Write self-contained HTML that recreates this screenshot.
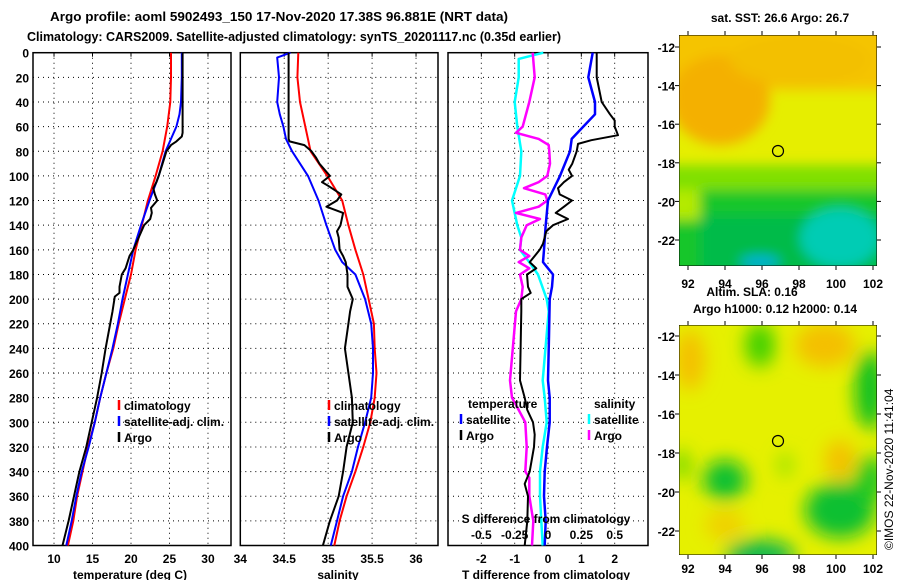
<!DOCTYPE html>
<html><head><meta charset="utf-8"><style>
body{margin:0;background:#fff;}
svg{display:block;font-family:"Liberation Sans",sans-serif;font-weight:bold;}
</style></head><body>
<svg id="fig" width="900" height="580" viewBox="0 0 900 580" xmlns="http://www.w3.org/2000/svg">
<defs>
<filter id="blur1" x="-20%" y="-20%" width="140%" height="140%"><feGaussianBlur stdDeviation="6"/></filter>
<filter id="blur2" x="-20%" y="-20%" width="140%" height="140%"><feGaussianBlur stdDeviation="9"/></filter>
<clipPath id="m1c"><rect x="679" y="35" width="198" height="231"/></clipPath>
<clipPath id="m2c"><rect x="679" y="325" width="198" height="230"/></clipPath>
</defs>
<text x="50" y="21" font-size="13" textLength="458" lengthAdjust="spacingAndGlyphs">Argo profile: aoml 5902493_150 17-Nov-2020 17.38S 96.881E (NRT data)</text>
<text x="27" y="41" font-size="13" textLength="534" lengthAdjust="spacingAndGlyphs">Climatology: CARS2009. Satellite-adjusted climatology: synTS_20201117.nc (0.35d earlier)</text>

<g id="maps">
 <g clip-path="url(#m1c)">
  <rect x="679" y="35" width="198" height="231" fill="#e6ee00"/>
  <g filter="url(#blur1)">
   <rect x="660" y="20" width="240" height="70" fill="#f5c400"/>
   <ellipse cx="720" cy="100" rx="50" ry="45" fill="#f4b000"/>
   <ellipse cx="800" cy="60" rx="70" ry="25" fill="#f3c000"/>
   <rect x="660" y="178" width="240" height="100" fill="#14c62a"/>
   <rect x="660" y="165" width="240" height="25" fill="#80e000"/>
   <rect x="660" y="190" width="40" height="30" fill="#b4ea00"/>
   <rect x="700" y="215" width="180" height="60" fill="#06bb4a"/>
   <ellipse cx="840" cy="238" rx="40" ry="30" fill="#00ccb4"/>
   <ellipse cx="760" cy="262" rx="20" ry="6" fill="#00b0e0"/>
  </g>
  <rect x="679" y="35" width="198" height="231" fill="none" stroke="#000"/>
  <circle cx="778" cy="151" r="5.5" fill="none" stroke="#000" stroke-width="1.2"/>
 </g>
 <g clip-path="url(#m2c)">
  <rect x="679" y="325" width="198" height="230" fill="#e6f000"/>
  <g filter="url(#blur2)">
   <ellipse cx="690" cy="360" rx="15" ry="30" fill="#f4c000"/>
   <ellipse cx="825" cy="345" rx="30" ry="22" fill="#f4c000"/>
   <ellipse cx="840" cy="460" rx="15" ry="20" fill="#f4c000"/>
   <ellipse cx="725" cy="525" rx="20" ry="15" fill="#f0d000"/>
   <ellipse cx="760" cy="345" rx="15" ry="22" fill="#40d000"/>
   <ellipse cx="870" cy="390" rx="15" ry="40" fill="#10c020"/>
   <ellipse cx="725" cy="480" rx="22" ry="20" fill="#10c030"/>
   <ellipse cx="840" cy="510" rx="35" ry="28" fill="#10c030"/>
   <ellipse cx="870" cy="480" rx="15" ry="25" fill="#20c820"/>
   <ellipse cx="760" cy="555" rx="35" ry="15" fill="#10b850"/>
   <ellipse cx="785" cy="465" rx="6" ry="12" fill="#80e000"/>
   <ellipse cx="682" cy="465" rx="6" ry="15" fill="#40d000"/>
  </g>
  <rect x="679" y="325" width="198" height="230" fill="none" stroke="#000"/>
  <circle cx="778" cy="441" r="5.5" fill="none" stroke="#000" stroke-width="1.2"/>
 </g>
 <text x="780" y="22" font-size="12" text-anchor="middle">sat. SST: 26.6 Argo: 26.7</text>
 <text x="752" y="296" font-size="12" text-anchor="middle">Altim. SLA: 0.16</text>
 <text x="775" y="313" font-size="12" text-anchor="middle">Argo h1000: 0.12 h2000: 0.14</text>
 <text transform="translate(893,550) rotate(-90)" font-size="12" font-weight="normal">©IMOS 22-Nov-2020 11:41:04</text>
</g>
<g id="plots"></g>
</svg>
<script>
// ---- temperature panel data ----
const tDepClim = [0,20,40,60,80,100,120,140,160,180,200,220,240,260,280,300,320,340,360,380,400];
const tClim = [25.2,25.2,25.1,24.7,24.1,23.2,22.2,21.4,20.6,20.0,19.2,18.4,17.7,16.8,16.0,15.3,14.4,13.7,13.0,12.5,11.8];
const tDepSat = [0,20,40,50,60,70,80,100,120,140,160,180,200,220,240,260,280,300,320,340,360,380,400];
const tSat = [26.6,26.6,26.5,26.3,25.9,25.2,24.5,23.6,22.4,21.3,20.3,19.6,18.9,18.3,17.6,16.8,16.0,15.3,14.5,13.6,12.9,12.3,11.6];
const tDepArgo = [0,65,68,72,75,80,90,100,105,110,115,120,126,130,135,140,150,160,165,175,180,190,195,198,210,220,240,260,280,300,320,340,360,380,400];
const tArgo = [26.7,26.7,26.6,25.9,25.2,24.6,24.1,23.6,23.3,22.9,23.1,23.4,22.6,22.7,22.5,21.7,21.0,20.3,19.8,19.3,18.8,18.5,18.5,17.9,17.6,17.3,16.7,16.2,15.6,14.9,14.2,13.3,12.6,11.9,11.1];
// ---- salinity panel data ----
const sDepClim = [0,20,40,60,80,100,120,140,160,180,200,220,240,260,280,300,320,340,360,380,400];
const sClim = [34.66,34.65,34.68,34.74,34.80,34.99,35.16,35.23,35.31,35.40,35.46,35.52,35.53,35.55,35.53,35.48,35.40,35.31,35.21,35.13,35.07];
const sDepSat = [0,4,20,40,50,60,70,80,90,100,120,140,160,170,180,200,220,240,260,280,300,320,340,360,380,400];
const sSat = [34.57,34.42,34.44,34.42,34.45,34.49,34.52,34.59,34.68,34.77,34.89,34.98,35.08,35.16,35.31,35.42,35.49,35.51,35.51,35.49,35.42,35.34,35.27,35.17,35.10,35.03];
const sDepArgo = [0,70,72,75,80,85,90,100,105,108,115,120,125,130,140,145,150,160,165,170,180,190,200,210,220,240,260,280,300,320,340,360,380,400];
const sArgo = [34.55,34.55,34.56,34.73,34.81,34.86,34.90,35.02,34.93,35.00,35.15,35.10,34.98,35.17,35.14,35.10,35.12,35.13,35.17,35.20,35.22,35.22,35.28,35.25,35.23,35.19,35.23,35.27,35.28,35.21,35.17,35.12,35.02,34.94];
// ---- difference panel data ----
const dDepTSat = [0,20,40,50,60,70,80,100,120,140,160,170,175,180,190,200,230,266,280,300,320,340,360,380,400];
const dTSat = [1.34,1.21,1.41,1.41,1.06,0.71,0.66,0.36,0.0,-0.07,-0.12,-0.15,0.0,0.15,0.12,0.05,0.03,0.0,0.05,0.05,-0.03,-0.1,-0.12,-0.07,-0.1];
const dDepTArgo = [0,20,40,50,55,60,67,71,74,80,90,95,100,105,110,115,120,125,130,135,140,145,155,160,165,170,175,180,190,195,200,210,266,280,290,300,310,320,340,350,360,380,400];
const dTArgo = [1.46,1.46,1.61,1.86,2.0,2.0,2.1,1.3,0.9,0.86,0.73,0.62,0.72,0.48,0.3,0.35,0.72,0.48,0.23,0.6,0.15,-0.05,-0.15,-0.25,-0.4,-0.55,-0.35,-0.63,-0.6,-0.52,-0.8,-0.8,-0.84,-0.7,-0.62,-0.45,-0.4,-0.42,-0.55,-0.7,-0.6,-0.62,-0.7];
const dDepSSat = [0,5,20,40,60,80,100,110,120,140,150,160,170,180,200,210,266,280,300,320,340,360,380,400];
const dSSat = [-0.035,-0.22,-0.22,-0.25,-0.23,-0.2,-0.21,-0.24,-0.27,-0.23,-0.2,-0.21,-0.14,-0.075,-0.01,0.005,-0.04,-0.025,-0.01,-0.04,-0.06,-0.06,-0.05,-0.04];
const dDepSArgo = [0,20,40,60,65,70,75,80,90,100,105,110,115,120,125,130,135,140,150,160,165,170,175,180,190,200,210,266,280,290,300,320,340,345,360,380,400];
const dSArgo = [-0.115,-0.1,-0.14,-0.19,-0.24,-0.07,0.005,0.01,0.015,-0.005,-0.07,-0.18,-0.02,-0.005,-0.07,-0.24,-0.06,-0.16,-0.2,-0.21,-0.14,-0.22,-0.14,-0.21,-0.19,-0.2,-0.24,-0.285,-0.27,-0.22,-0.17,-0.16,-0.17,-0.14,-0.14,-0.11,-0.12];
// ---- axis ticks ----
const depthTicks = [0,20,40,60,80,100,120,140,160,180,200,220,240,260,280,300,320,340,360,380,400];
const tTicks = [10,15,20,25,30];
const sTicks = [34.5,35,35.5,36];
const sTickLabels = ["34","34.5","35","35.5","36"];
const dTTicks = [-2,-1,0,1,2];
const dSTicks = [-0.5,-0.25,0,0.25,0.5];
const latTicks = [-12,-14,-16,-18,-20,-22];
const lonTicks = [92,94,96,98,100,102];

const NS="http://www.w3.org/2000/svg";
const g=document.getElementById('plots');
const top0=52.7, bot0=545.5;
const yD=d=>top0+(bot0-top0)*d/400;
function lin(d0,d1,r0,r1){return v=>r0+(v-d0)*(r1-r0)/(d1-d0);}
const xT=lin(7.27,32.99,33,231);
const xS=lin(34,36.25,240.3,438);
const xDT=lin(-3,3,448,648);
const xDS=lin(-0.75,0.75,448,648);
function el(tag,attrs,parent){const e=document.createElementNS(NS,tag);for(const k in attrs)e.setAttribute(k,attrs[k]);(parent||g).appendChild(e);return e;}
function txt(x,y,s,anchor,size,parent){const t=el('text',{x:x,y:y,'font-size':size||12,'text-anchor':anchor||'middle'},parent);t.textContent=s;return t;}

function panel(name,x0,x1,xs,gridVals){
  const p=el('g',{});
  
  
  depthTicks.slice(1,-1).forEach(d=>{
    const l=el('line',{x1:x0,x2:x1,y1:yD(d),y2:yD(d),stroke:'#000','stroke-dasharray':'1,4'},p);
    
    
  });
  gridVals.forEach(v=>{
    const l=el('line',{x1:xs(v),x2:xs(v),y1:top0,y2:bot0,stroke:'#000','stroke-dasharray':'1,4'},p);
    
    
    el('line',{x1:xs(v),x2:xs(v),y1:top0,y2:top0+4,stroke:'#000'},p);
  });
  const r=el('rect',{x:x0,y:top0,width:x1-x0,height:bot0-top0,fill:'none',stroke:'#000','stroke-width':1.5},p);
  
  
  return p;
}
function line(p,deps,vals,xs,color,w,name){
  const pts=deps.map((d,i)=>xs(vals[i]).toFixed(1)+','+yD(d).toFixed(1)).join(' ');
  const l=el('polyline',{points:pts,fill:'none',stroke:color,'stroke-width':w,'stroke-linejoin':'round'},p);
  
  
}
function legendEntry(p,x,y,color,label){
  const b=el('line',{x1:x,x2:x,y1:y-10,y2:y,stroke:color,'stroke-width':2.5},p);
  
  
  const t=txt(x+5,y,label,'start',12,p);
  
  
}

// temperature
const pT=panel('temperature-panel',33,231,xT,tTicks);
line(pT,tDepClim,tClim,xT,'#f00',2,'temperature-climatology-line');
line(pT,tDepSat,tSat,xT,'#00f',2,'temperature-satellite-line');
line(pT,tDepArgo,tArgo,xT,'#000',2,'temperature-argo-line');
depthTicks.forEach(d=>{const t=txt(29,yD(d)+5,String(d),'end',12,pT);});
tTicks.forEach(v=>{const t=txt(xT(v),563,String(v),'middle',12,pT);});
const tt=txt(130,579,'temperature (deg C)','middle',12,pT);

legendEntry(pT,119,410,'#f00','climatology');
legendEntry(pT,119,426,'#00f','satellite-adj. clim.');
legendEntry(pT,119,442,'#000','Argo');

// salinity
const pS=panel('salinity-panel',240.3,438,xS,sTicks);
line(pS,sDepClim,sClim,xS,'#f00',2,'salinity-climatology-line');
line(pS,sDepSat,sSat,xS,'#00f',2,'salinity-satellite-line');
line(pS,sDepArgo,sArgo,xS,'#000',2,'salinity-argo-line');
[34].concat(sTicks).forEach((v,i)=>{const t=txt(xS(v),563,sTickLabels[i],'middle',12,pS);});
const st=txt(338,579,'salinity','middle',12,pS);

legendEntry(pS,329,410,'#f00','climatology');
legendEntry(pS,329,426,'#00f','satellite-adj. clim.');
legendEntry(pS,329,442,'#000','Argo');

// difference
const pD=panel('difference-panel',448,648,xDT,dTTicks);
line(pD,dDepSSat,dSSat,xDS,'#0ff',2.5,'salinity-satellite-diff-line');
line(pD,dDepSArgo,dSArgo,xDS,'#f0f',2.5,'salinity-argo-diff-line');
line(pD,dDepTSat,dTSat,xDT,'#00f',2.5,'temperature-satellite-diff-line');
line(pD,dDepTArgo,dTArgo,xDT,'#000',2,'temperature-argo-diff-line');
dTTicks.forEach(v=>{const t=txt(xDT(v),563,String(v),'middle',12,pD);});
dSTicks.forEach(v=>{const t=txt(xDS(v),539,String(v),'middle',12,pD);});
const dt1=txt(546,523,'S difference from climatology','middle',12,pD);

const dt2=txt(546,579,'T difference from climatology','middle',12,pD);

const lh1=txt(468,408,'temperature','start',12,pD);

const lh2=txt(594,408,'salinity','start',12,pD);

legendEntry(pD,461,424,'#00f','satellite');
legendEntry(pD,461,440,'#000','Argo');
legendEntry(pD,589,424,'#0ff','satellite');
legendEntry(pD,589,440,'#f0f','Argo');

// map axes
const mg=document.getElementById('maps');
const lonX=lin(92,102,688,873);
function mapAxes(yLat,xLabY,top,bot){
  latTicks.forEach(v=>{
    const y=yLat(v);
    const t=txt(675,y+5,String(v),'end',12,mg);
    
    el('line',{x1:679,x2:675,y1:y,y2:y,stroke:'#000'},mg);
    el('line',{x1:877,x2:881,y1:y,y2:y,stroke:'#000'},mg);
  });
  lonTicks.forEach(v=>{
    const x=lonX(v);
    const t=txt(x,xLabY,String(v),'middle',12,mg);
    
    el('line',{x1:x,x2:x,y1:top,y2:top-4,stroke:'#000'},mg);
    el('line',{x1:x,x2:x,y1:bot,y2:bot+4,stroke:'#000'},mg);
  });
}
mapAxes(lin(-12,-22,47,240),288,35,266);
mapAxes(lin(-12,-22,336,531),573,325,555);
</script>
</body></html>
